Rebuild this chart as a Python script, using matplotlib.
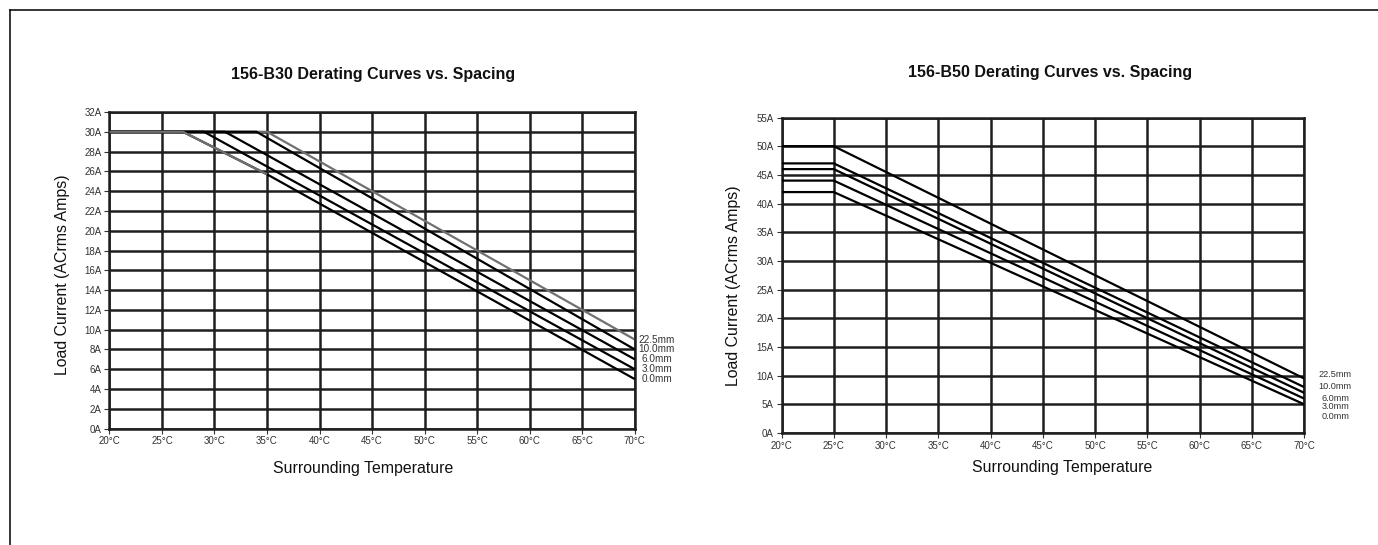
import matplotlib
matplotlib.use("Agg")
import matplotlib.pyplot as plt
from matplotlib.lines import Line2D

# ---------------- data ----------------
spacings = ["22.5mm", "10.0mm", "6.0mm", "3.0mm", "0.0mm"]

b30_temps = [[20, 35, 70], [20, 34, 70], [20, 31, 70], [20, 29, 70], [20, 27, 35, 70]]
b30_amps = [[30, 30, 9], [30, 30, 8], [30, 30, 7], [30, 30, 6], [30, 30, 25.7, 5]]

b50_temps = [[20, 25, 70], [20, 25, 70], [20, 25, 70], [20, 25, 70], [20, 25, 70]]
b50_amps = [[50, 50, 9.5], [47, 47, 8], [46, 46, 7], [44, 44, 6], [42, 42, 5]]

temp_ticks = [20, 25, 30, 35, 40, 45, 50, 55, 60, 65, 70]
temp_labels = ["20°C", "25°C", "30°C", "35°C", "40°C", "45°C", "50°C", "55°C", "60°C", "65°C", "70°C"]
b30_amp_ticks = [0, 2, 4, 6, 8, 10, 12, 14, 16, 18, 20, 22, 24, 26, 28, 30, 32]
b30_amp_labels = [f"{a}A" for a in b30_amp_ticks]
b50_amp_ticks = [0, 5, 10, 15, 20, 25, 30, 35, 40, 45, 50, 55]
b50_amp_labels = [f"{a}A" for a in b50_amp_ticks]

titles = ["156-B30 Derating Curves vs. Spacing", "156-B50 Derating Curves vs. Spacing"]
xlabel = "Surrounding Temperature"
ylabel = "Load Current (ACrms Amps)"

# ---------------- style ----------------
plt.rcParams['font.family'] = ['Liberation Sans', 'DejaVu Sans']
W, H = 1378, 545
fig = plt.figure(figsize=(W / 100, H / 100), dpi=100)
fig.patch.set_facecolor('white')

def fx(px):
    return px / W

def fy(py):
    return 1 - py / H

GRID = '#1e1e1e'
GRAY = '#707070'

def setup_axes(rect, yticks, ylabels, ymax):
    x0, x1, ytop, ybot = rect
    ax = fig.add_axes([fx(x0), fy(ybot), fx(x1) - fx(x0), fy(ytop) - fy(ybot)])
    ax.set_xlim(20, 70)
    ax.set_ylim(0, ymax)
    ax.set_xticks(temp_ticks)
    ax.set_xticklabels(temp_labels)
    ax.set_yticks(yticks)
    ax.set_yticklabels(ylabels)
    ax.tick_params(axis='both', direction='out', length=3.5, width=0.8, color='#333333',
                   labelsize=7, labelcolor='#333333', pad=2)
    ax.grid(True, color=GRID, linewidth=1.8, zorder=1)
    ax.set_axisbelow(True)
    for s in ax.spines.values():
        s.set_color(GRID)
        s.set_linewidth(1.8)
    return ax

# left chart
axL = setup_axes((109.4, 634.8, 112.0, 428.6), b30_amp_ticks, b30_amp_labels, 32)
colorsL = [GRAY, 'black', 'black', 'black', 'black']
for i, (t, a) in enumerate(zip(b30_temps, b30_amps)):
    axL.plot(t, a, color=colorsL[i], linewidth=1.6, zorder=3 if i else 2,
             solid_capstyle='butt', clip_on=False)
# 0.0mm first part drawn gray on top (as in the original)
axL.plot(b30_temps[4][:3], b30_amps[4][:3], color=GRAY, linewidth=1.6, zorder=4,
         solid_capstyle='butt')
for name, a in zip(spacings, b30_amps):
    axL.annotate(name, xy=(70, a[-1]), xytext=(22, 0), textcoords='offset pixels',
                 ha='center', va='center', fontsize=7.2, color='#333333',
                 annotation_clip=False)

# right chart
axR = setup_axes((781.5, 1304.2, 117.5, 433.0), b50_amp_ticks, b50_amp_labels, 55)
for t, a in zip(b50_temps, b50_amps):
    axR.plot(t, a, color='black', linewidth=1.6, zorder=3, solid_capstyle='butt')
label_dy = [3.7, 1.0, -5.5, -8.2, -12.0]
for name, a, dy in zip(spacings, b50_amps, label_dy):
    axR.annotate(name, xy=(70, a[-1]), xytext=(31, dy), textcoords='offset pixels',
                 ha='center', va='center', fontsize=6.6, color='#333333',
                 annotation_clip=False)

# titles and axis labels
fig.text(fx(373.5), fy(74), titles[0], ha='center', va='center', fontsize=11.5,
         fontweight='bold', color='#111111')
fig.text(fx(1050.5), fy(73), titles[1], ha='center', va='center', fontsize=11.5,
         fontweight='bold', color='#111111')
fig.text(fx(363.5), fy(469), xlabel, ha='center', va='center', fontsize=11.4, color='#111111')
fig.text(fx(1062), fy(467.5), xlabel, ha='center', va='center', fontsize=11.4, color='#111111')
fig.text(fx(62.5), fy(274.5), ylabel, ha='center', va='center', fontsize=11.4,
         rotation=90, color='#111111')
fig.text(fx(733.4), fy(286), ylabel, ha='center', va='center', fontsize=11.4,
         rotation=90, color='#111111')

# page border (top and left)
fig.add_artist(Line2D([fx(10), 1.0], [fy(9.5), fy(9.5)], transform=fig.transFigure,
                      color='black', linewidth=1.1))
fig.add_artist(Line2D([fx(10), fx(10)], [fy(9.5), 0.0], transform=fig.transFigure,
                      color='black', linewidth=1.1))

fig.savefig('out.png', dpi=100, facecolor='white')
